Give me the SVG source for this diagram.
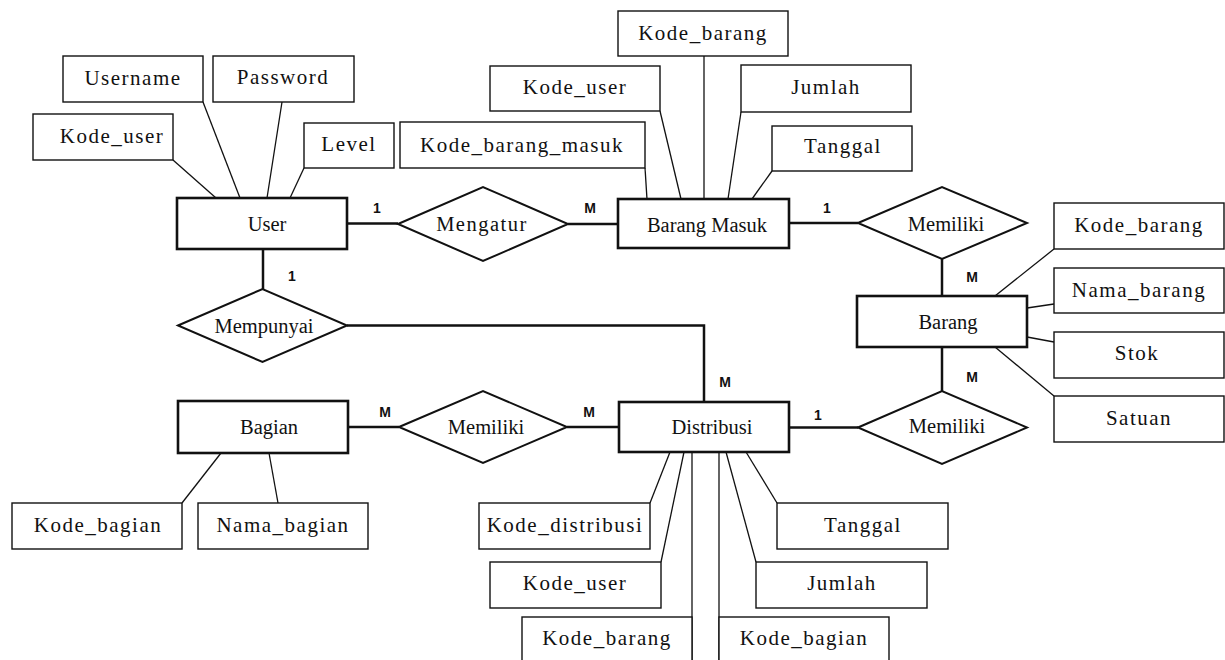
<svg xmlns="http://www.w3.org/2000/svg" width="1225" height="660" viewBox="0 0 1225 660">
<style>
  .ent { fill: #fff; stroke: #111; stroke-width: 2.6; }
  .rel { fill: #fff; stroke: #111; stroke-width: 2; }
  .att { fill: #fff; stroke: #111; stroke-width: 1.4; }
  .rl { fill: none; stroke: #111; stroke-width: 2.5; }
  .al { fill: none; stroke: #111; stroke-width: 1.3; }
  .et { font-family: "Liberation Serif", "Times New Roman", serif; font-size: 20.5px; fill: #111; text-anchor: middle; }
  .at { font-family: "Liberation Serif", "Times New Roman", serif; font-size: 21px; letter-spacing: 1.5px; fill: #111; text-anchor: middle; }
  .cd { font-family: "Liberation Sans", Arial, sans-serif; font-size: 14px; font-weight: bold; fill: #111; text-anchor: middle; }
</style>
<rect x="0" y="0" width="1225" height="660" fill="#fff"/>

<g id="connectors">
  <!-- relationship lines -->
  <line class="rl" x1="347" y1="223.5" x2="398" y2="223.5"/>
  <line class="rl" x1="568" y1="224" x2="618" y2="224"/>
  <line class="rl" x1="789" y1="223" x2="858" y2="223"/>
  <line class="rl" x1="942" y1="259" x2="942" y2="296"/>
  <line class="rl" x1="942" y1="347" x2="942" y2="391"/>
  <line class="rl" x1="858" y1="427.5" x2="789" y2="427.5"/>
  <line class="rl" x1="263" y1="249" x2="263" y2="289"/>
  <polyline class="rl" points="347,325.5 704,325.5 704,402"/>
  <line class="rl" x1="348" y1="427" x2="399" y2="427"/>
  <line class="rl" x1="567" y1="427" x2="619" y2="427"/>
  <!-- attribute lines: User -->
  <line class="al" x1="173" y1="160" x2="216" y2="198"/>
  <line class="al" x1="203" y1="102" x2="240" y2="198"/>
  <line class="al" x1="282" y1="102" x2="267" y2="198"/>
  <line class="al" x1="304" y1="168" x2="290" y2="198"/>
  <!-- attribute lines: Barang Masuk -->
  <line class="al" x1="645" y1="168" x2="647" y2="199"/>
  <line class="al" x1="660" y1="111" x2="681" y2="199"/>
  <line class="al" x1="704" y1="56" x2="704" y2="199"/>
  <line class="al" x1="741" y1="112" x2="728" y2="199"/>
  <line class="al" x1="772" y1="171" x2="752" y2="199"/>
  <!-- attribute lines: Barang -->
  <line class="al" x1="1054" y1="249" x2="995" y2="296"/>
  <line class="al" x1="1054" y1="304" x2="1027" y2="308"/>
  <line class="al" x1="1054" y1="342" x2="1027" y2="337"/>
  <line class="al" x1="1054" y1="396" x2="995" y2="347"/>
  <!-- attribute lines: Bagian -->
  <line class="al" x1="182" y1="503" x2="221" y2="453"/>
  <line class="al" x1="278" y1="503" x2="269" y2="453"/>
  <!-- attribute lines: Distribusi -->
  <line class="al" x1="650" y1="503" x2="670" y2="452"/>
  <line class="al" x1="661" y1="562" x2="684" y2="452"/>
  <line class="al" x1="692" y1="452" x2="692" y2="660"/>
  <line class="al" x1="719" y1="452" x2="719" y2="660"/>
  <line class="al" x1="756" y1="562" x2="726" y2="452"/>
  <line class="al" x1="777" y1="503" x2="746" y2="452"/>
  <!-- cardinalities -->
  <text class="cd" x="377" y="213">1</text>
  <text class="cd" x="590" y="213">M</text>
  <text class="cd" x="827" y="213">1</text>
  <text class="cd" x="972" y="282">M</text>
  <text class="cd" x="972" y="382">M</text>
  <text class="cd" x="818" y="420">1</text>
  <text class="cd" x="292" y="281">1</text>
  <text class="cd" x="725" y="387">M</text>
  <text class="cd" x="385" y="417">M</text>
  <text class="cd" x="589" y="417">M</text>
</g>

<!-- Entities -->
<g id="user"><rect class="ent" x="177" y="198" width="170" height="51"/><text class="et" x="267" y="231">User</text></g>
<g id="barang-masuk"><rect class="ent" x="618" y="199" width="171" height="49"/><text class="et" x="707" y="232">Barang Masuk</text></g>
<g id="barang"><rect class="ent" x="857" y="296" width="170" height="51"/><text class="et" x="948" y="329">Barang</text></g>
<g id="bagian"><rect class="ent" x="178" y="401" width="170" height="52"/><text class="et" x="269" y="434">Bagian</text></g>
<g id="distribusi"><rect class="ent" x="619" y="402" width="170" height="50"/><text class="et" x="712" y="434">Distribusi</text></g>

<!-- Relationships -->
<g id="rel-mengatur"><polygon class="rel" points="398,224 483,187 568,224 483,261"/><text class="et" x="482" y="231" style="letter-spacing:1.5px">Mengatur</text></g>
<g id="rel-memiliki-barang-masuk"><polygon class="rel" points="858,223 942,187 1027,223 942,259"/><text class="et" x="946" y="231">Memiliki</text></g>
<g id="rel-mempunyai"><polygon class="rel" points="178,325.5 262.5,289 347,325.5 262.5,362"/><text class="et" x="264" y="333">Mempunyai</text></g>
<g id="rel-memiliki-bagian"><polygon class="rel" points="399,427 483,391 567,427 483,463"/><text class="et" x="486" y="434">Memiliki</text></g>
<g id="rel-memiliki-distribusi"><polygon class="rel" points="858,427.5 942,391 1027,427.5 942,464"/><text class="et" x="947" y="433">Memiliki</text></g>

<!-- Attributes: User -->
<g id="att-user-username"><rect class="att" x="63" y="56" width="140" height="46"/><text class="at" x="133" y="85">Username</text></g>
<g id="att-user-password"><rect class="att" x="213" y="56" width="141" height="46"/><text class="at" x="283" y="84">Password</text></g>
<g id="att-user-kode-user"><rect class="att" x="33" y="114" width="140" height="46"/><text class="at" x="112" y="143">Kode_user</text></g>
<g id="att-user-level"><rect class="att" x="304" y="123" width="90" height="45"/><text class="at" x="349" y="151">Level</text></g>

<!-- Attributes: Barang Masuk -->
<g id="att-bm-kode-barang"><rect class="att" x="618" y="11" width="170" height="45"/><text class="at" x="703" y="40">Kode_barang</text></g>
<g id="att-bm-kode-user"><rect class="att" x="490" y="66" width="170" height="45"/><text class="at" x="575" y="94">Kode_user</text></g>
<g id="att-bm-jumlah"><rect class="att" x="741" y="65" width="170" height="47"/><text class="at" x="826" y="94">Jumlah</text></g>
<g id="att-bm-kode-barang-masuk"><rect class="att" x="400" y="122" width="245" height="46"/><text class="at" x="522" y="152">Kode_barang_masuk</text></g>
<g id="att-bm-tanggal"><rect class="att" x="772" y="126" width="140" height="45"/><text class="at" x="843" y="153">Tanggal</text></g>

<!-- Attributes: Barang -->
<g id="att-b-kode-barang"><rect class="att" x="1054" y="203" width="170" height="46"/><text class="at" x="1139" y="232">Kode_barang</text></g>
<g id="att-b-nama-barang"><rect class="att" x="1054" y="268" width="170" height="45"/><text class="at" x="1139" y="297">Nama_barang</text></g>
<g id="att-b-stok"><rect class="att" x="1054" y="332" width="170" height="46"/><text class="at" x="1137" y="360">Stok</text></g>
<g id="att-b-satuan"><rect class="att" x="1054" y="396" width="170" height="46"/><text class="at" x="1139" y="425">Satuan</text></g>

<!-- Attributes: Bagian -->
<g id="att-bg-kode-bagian"><rect class="att" x="12" y="503" width="170" height="46"/><text class="at" x="98" y="532">Kode_bagian</text></g>
<g id="att-bg-nama-bagian"><rect class="att" x="198" y="503" width="170" height="46"/><text class="at" x="283" y="532">Nama_bagian</text></g>

<!-- Attributes: Distribusi -->
<g id="att-d-kode-distribusi"><rect class="att" x="479" y="503" width="171" height="46"/><text class="at" x="565" y="532">Kode_distribusi</text></g>
<g id="att-d-kode-user"><rect class="att" x="490" y="562" width="171" height="46"/><text class="at" x="575" y="590">Kode_user</text></g>
<g id="att-d-kode-barang"><rect class="att" x="522" y="617" width="170" height="55"/><text class="at" x="607" y="645">Kode_barang</text></g>
<g id="att-d-tanggal"><rect class="att" x="777" y="503" width="171" height="46"/><text class="at" x="863" y="532">Tanggal</text></g>
<g id="att-d-jumlah"><rect class="att" x="756" y="562" width="171" height="46"/><text class="at" x="842" y="590">Jumlah</text></g>
<g id="att-d-kode-bagian"><rect class="att" x="719" y="617" width="170" height="55"/><text class="at" x="804" y="645">Kode_bagian</text></g>
</svg>
